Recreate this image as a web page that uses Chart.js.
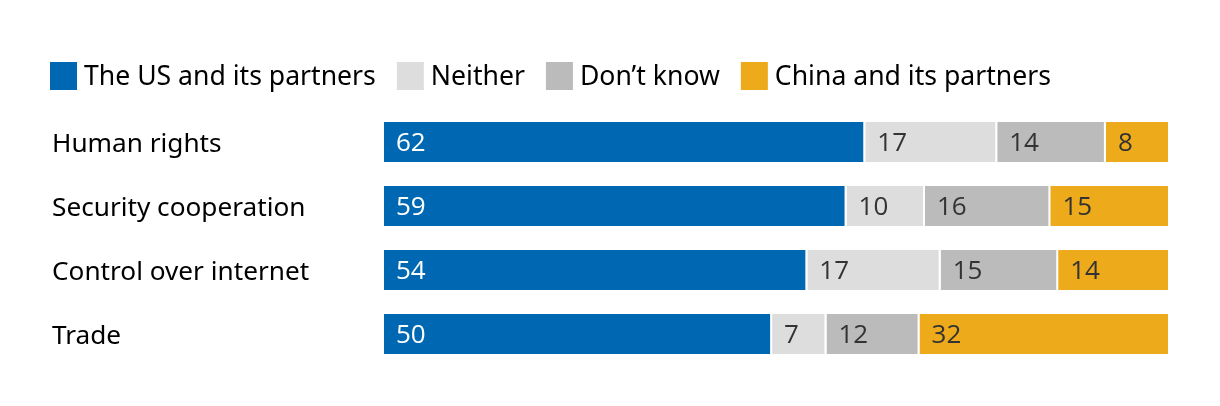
<!DOCTYPE html>
<html>
<head>
<meta charset="utf-8">
<script src="https://cdn.jsdelivr.net/npm/chart.js@4/dist/chart.umd.min.js"></script>
<style>
  html, body { margin: 0; padding: 0; background: #fff; }
  #wrap { width: 1220px; height: 406px; position: relative; }
</style>
</head>
<body>
<div id="wrap"><canvas id="Charts"></canvas></div>
<script>
// data
var categories = ['Human rights', 'Security cooperation', 'Control over internet', 'Trade'];
var usPartners = [62, 59, 54, 50];
var neither = [17, 10, 17, 7];
var dontKnow = [14, 16, 15, 12];
var chinaPartners = [8, 15, 14, 32];
var seriesNames = ['The US and its partners', 'Neither', 'Don\u2019t know', 'China and its partners'];
var colors = ['#0068b3', '#dddddd', '#bbbbbb', '#edab1c'];
var textColors = ['#ffffff', '#333333', '#333333', '#333333'];

var raw = [usPartners, neither, dontKnow, chinaPartners];
// each row is stretched to the full width (rows add up to 100 or 101)
var sums = categories.map(function(c, i){
    return raw.reduce(function(s, arr){ return s + arr[i]; }, 0);
});

var labelFamily = '"Noto Sans", Lato, sans-serif';
var legendFont = '26.6px ' + labelFamily;
var valueFont = '26px "Open Sans", sans-serif';

var arr = [];
for (let k = 0; k < 4; k++) {
    arr.push({
        label: seriesNames[k],
        data: raw[k].map(function(v, i){ return v / sums[i] * 100; }),
        rawValues: raw[k],
        backgroundColor: colors[k],
        borderColor: '#ffffff',
        borderWidth: k < 3 ? {top: 0, bottom: 0, left: 0, right: 2} : 0,
        borderSkipped: false,
        barPercentage: 40 / 64,
        categoryPercentage: 1
    });
}

// numbers inside the segments
var valuePlugin = {
    id: 'values',
    afterDatasetsDraw: function(chart){
        var ctx = chart.ctx;
        ctx.save();
        ctx.font = valueFont;
        ctx.textBaseline = 'middle';
        ctx.textAlign = 'left';
        chart.data.datasets.forEach(function(ds, k){
            var meta = chart.getDatasetMeta(k);
            meta.data.forEach(function(bar, i){
                var left = Math.min(bar.x, bar.base);
                ctx.fillStyle = textColors[k];
                ctx.fillText(String(ds.rawValues[i]), left + 12, bar.y + 2);
            });
        });
        ctx.restore();
    }
};

// legend row on top
var legendPlugin = {
    id: 'toplegend',
    afterDraw: function(chart){
        var ctx = chart.ctx;
        ctx.save();
        ctx.font = legendFont;
        ctx.textBaseline = 'middle';
        var x = 50;
        chart.data.datasets.forEach(function(ds, k){
            ctx.fillStyle = colors[k];
            ctx.fillRect(x, 62, 27, 28);
            ctx.fillStyle = '#000000';
            ctx.fillText(ds.label, x + 34, 77);
            x = x + 34 + ctx.measureText(ds.label).width + 21;
        });
        ctx.restore();
    }
};

var ctx = document.getElementById('Charts').getContext('2d');
var myChart = new Chart(ctx, {
    type: 'bar',
    data: {
        labels: categories,
        datasets: arr
    },
    options: {
        indexAxis: 'y',
        responsive: true,
        maintainAspectRatio: false,
        animation: false,
        layout: { padding: { left: 52, right: 52, top: 110, bottom: 40 } },
        plugins: {
            legend: { display: false },
            tooltip: { enabled: false }
        },
        scales: {
            x: { stacked: true, min: 0, max: 100, display: false },
            y: {
                stacked: true,
                grid: { display: false },
                border: { display: false },
                ticks: {
                    crossAlign: 'far',
                    padding: 0,
                    color: '#000000',
                    labelOffset: 3,
                    font: { family: labelFamily, size: 26.2 }
                },
                afterFit: function(scale){ scale.width = 332; }
            }
        }
    },
    plugins: [valuePlugin, legendPlugin]
});
</script>
</body>
</html>
